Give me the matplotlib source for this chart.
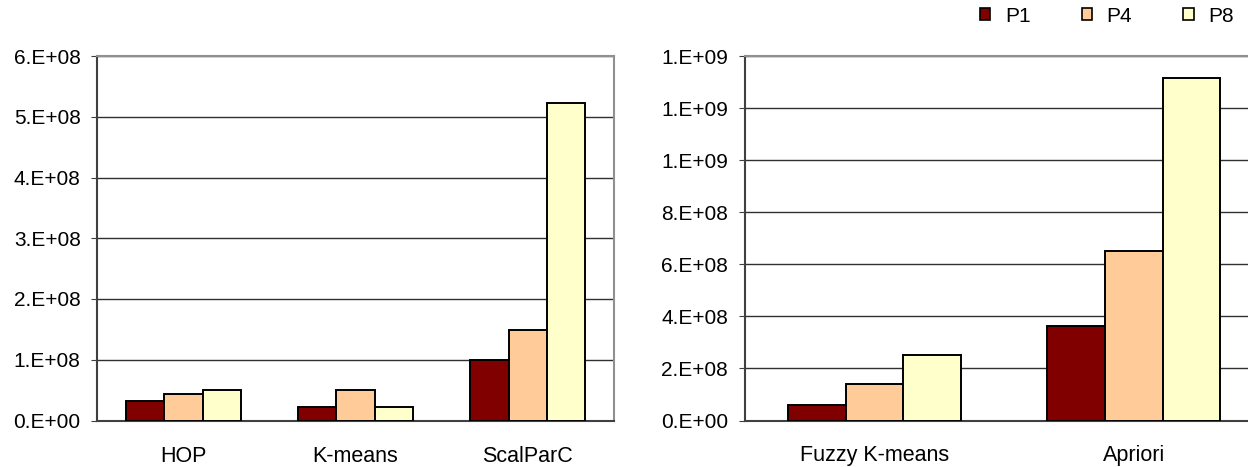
import matplotlib
matplotlib.use("Agg")
import matplotlib.pyplot as plt
import numpy as np
from matplotlib.patches import Patch
from matplotlib.ticker import FuncFormatter, MultipleLocator

plt.rcParams["font.family"] = ["Liberation Sans", "DejaVu Sans"]

series = ["P1", "P4", "P8"]
colors = ["#800000", "#FFCC99", "#FFFFCC"]

cats_left = ["HOP", "K-means", "ScalParC"]
p1_left = [3.2e7, 2.2e7, 1.0e8]
p4_left = [4.3e7, 5.0e7, 1.49e8]
p8_left = [5.0e7, 2.2e7, 5.22e8]

cats_right = ["Fuzzy K-means", "Apriori"]
p1_right = [6.0e7, 3.64e8]
p4_right = [1.40e8, 6.52e8]
p8_right = [2.52e8, 1.314e9]

fmt = FuncFormatter(lambda v, pos: format(v, "#.0E"))


def draw(ax, cats, vals, ymax, step):
    x = np.arange(len(cats))
    w = 2 / 3 / 3
    for k, (v, c) in enumerate(zip(vals, colors)):
        ax.bar(x + (k - 1) * w, v, width=w, color=c, edgecolor="black",
               linewidth=1.4, zorder=3)
    ax.set_xlim(-0.5, len(cats) - 0.5)
    ax.set_ylim(0, ymax)
    ax.yaxis.set_major_locator(MultipleLocator(step))
    ax.yaxis.set_major_formatter(fmt)
    ax.set_xticks(x)
    ax.set_xticklabels(cats)
    ax.tick_params(axis="x", length=0, pad=18, labelsize=15.5)
    ax.tick_params(axis="y", length=4, width=0.8, pad=8, labelsize=15,
                   color="#404040")
    ax.grid(axis="y", color="#303030", linewidth=1)
    ax.set_axisbelow(True)
    ax.spines["left"].set_color("#404040")
    ax.spines["bottom"].set_color("#404040")
    ax.spines["top"].set_color("#909090")
    ax.spines["right"].set_color("#909090")
    for s in ax.spines.values():
        s.set_linewidth(1.5)


fig = plt.figure(figsize=(12.48, 4.67), dpi=100)
ax1 = fig.add_axes([97.3 / 1248, 46.5 / 467, 516.6 / 1248, 364.5 / 467])
ax2 = fig.add_axes([744.6 / 1248, 46.5 / 467, 519 / 1248, 364.5 / 467])

draw(ax1, cats_left, [p1_left, p4_left, p8_left], 6e8, 1e8)
draw(ax2, cats_right, [p1_right, p4_right, p8_right], 1.4e9, 2e8)

handles = [Patch(facecolor=c, edgecolor="black", linewidth=1.2) for c in colors]
fig.legend(handles, series, loc="center right",
           bbox_to_anchor=(1234 / 1248, 1 - 16 / 467), ncol=3, frameon=False,
           fontsize=15, handlelength=0.5, handleheight=0.5,
           handletextpad=0.7, columnspacing=2.45, borderpad=0, borderaxespad=0)

fig.savefig("out.png", dpi=100)
